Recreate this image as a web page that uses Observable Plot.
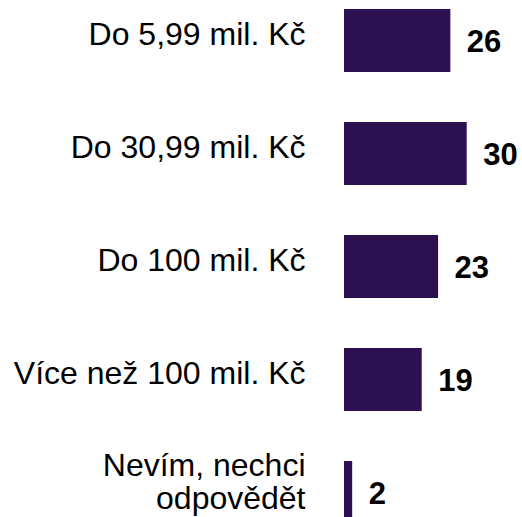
<!DOCTYPE html>
<html>
<head>
<meta charset="utf-8">
<script src="https://cdn.jsdelivr.net/npm/d3@7"></script>
<script src="https://cdn.jsdelivr.net/npm/@observablehq/plot@0.6"></script>
<style>
  html, body { margin: 0; padding: 0; background: #fff; }
  #chart svg { display: block; }
</style>
</head>
<body>
<div id="chart"></div>
<script>
const categories = ["Do 5,99 mil. Kč", "Do 30,99 mil. Kč", "Do 100 mil. Kč", "Více než 100 mil. Kč", "Nevím, nechci\nodpovědět"];
const values = [26, 30, 23, 19, 2];

const data = categories.map((c, i) => ({category: c, value: values[i]}));
const singleLine = data.filter(d => !d.category.includes("\n"));
const multiLine = data.filter(d => d.category.includes("\n"));

const chart = Plot.plot({
  width: 522,
  height: 517,
  margin: 0,
  style: {fontFamily: "'Liberation Sans', Arial, sans-serif", background: "#fff", overflow: "visible"},
  x: {domain: [0, 30], range: [344, 466.7], axis: null},
  y: {domain: categories, range: [8, 525], paddingInner: 0.445, paddingOuter: 0, axis: null},
  marks: [
    Plot.barX(data, {x: "value", y: "category", fill: "#2b1150"}),
    Plot.text(data, {
      x: "value", y: "category", text: d => String(d.value),
      dx: 16, dy: 1.5, textAnchor: "start",
      fontSize: 31, fontWeight: "bold", fill: "#000"
    }),
    Plot.text(singleLine, {
      x: 0, y: "category", text: "category",
      dx: -39, dy: -6, textAnchor: "end",
      fontSize: 32, fill: "#000"
    }),
    Plot.text(multiLine, {
      x: 0, y: "category", text: "category",
      dx: -39, dy: -11, textAnchor: "end", lineHeight: 1.03,
      fontSize: 32, fill: "#000"
    })
  ]
});
document.getElementById("chart").appendChild(chart);
</script>
</body>
</html>
